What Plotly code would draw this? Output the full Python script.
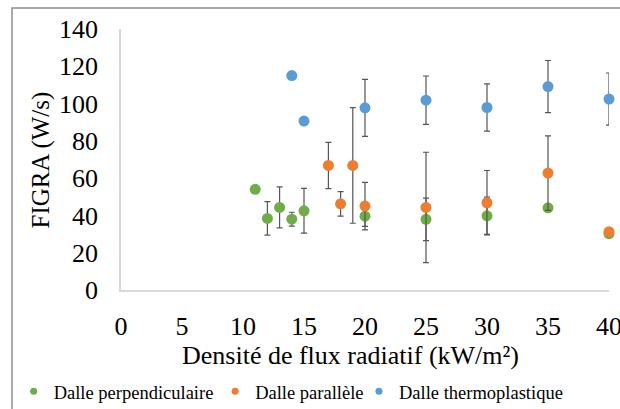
import plotly.graph_objects as go

# données
flux_perp = [11, 12, 13, 14, 15, 20, 25, 30, 35, 40]
figra_perp = [54, 38.4, 44.3, 38, 42.5, 39.6, 37.9, 39.8, 44.1, 30.2]
err_perp = [0, 9, 11, 3.7, 12, 5.5, 11.4, 10, 0, 0]

flux_para = [17, 18, 19, 20, 25, 30, 35, 40]
figra_para = [66.8, 46.2, 66.8, 45, 44.3, 46.8, 62.7, 31.3]
err_para = [12.4, 6.6, 31, 12.7, 29.6, 17.3, 20, 0]

flux_thermo = [14, 15, 20, 25, 30, 35, 40]
figra_thermo = [115, 90.6, 97.7, 101.8, 97.9, 109.1, 102.4]
err_thermo = [0, 0, 15.3, 13, 12.7, 14, 14]

series = [
    ("Dalle perpendiculaire", flux_perp, figra_perp, err_perp, "#70ad47"),
    ("Dalle parallèle", flux_para, figra_para, err_para, "#ed7d31"),
    ("Dalle thermoplastique", flux_thermo, figra_thermo, err_thermo, "#5b9bd5"),
]

FONT = "Times New Roman, Liberation Serif, serif"

fig = go.Figure()

for name, x, y, err, color in series:
    fig.add_trace(go.Scatter(
        x=x, y=y, mode="markers", name=name, showlegend=False, cliponaxis=False,
        marker=dict(color=color, size=11),
        error_y=dict(type="data", array=err, visible=True,
                     color="#555555", thickness=1.2, width=3)))

# une légende par série pour garder tout sur une ligne
legend_ids = ["legend", "legend2", "legend3"]
legend_x = [0.022, 0.347, 0.579]
for (name, x, y, err, color), lg in zip(series, legend_ids):
    fig.add_trace(go.Scatter(
        x=[None], y=[None], mode="markers", name=name, legend=lg,
        marker=dict(color=color, size=7)))

fig.update_xaxes(
    range=[0, 40], dtick=5, showgrid=False, zeroline=False, automargin=False,
    showline=True, linecolor="#d9d9d9", linewidth=1.5,
    ticks="", ticklabelstandoff=12, ticklabeloverflow="allow",
    tickfont=dict(family=FONT, size=26, color="#000000"))

fig.update_yaxes(
    range=[0, 140], dtick=20, showgrid=False, zeroline=False, automargin=False,
    showline=True, linecolor="#d9d9d9", linewidth=1.5,
    ticks="", ticklabelstandoff=16,
    tickfont=dict(family=FONT, size=26, color="#000000"))

fig.add_annotation(
    text="Densité de flux radiatif (kW/m²)", xref="paper", yref="paper",
    x=0.47, y=-0.25, xanchor="center", yanchor="middle", showarrow=False,
    font=dict(family=FONT, size=26, color="#000000"))

fig.add_annotation(
    text="FIGRA (W/s)", xref="paper", yref="paper", textangle=-90,
    x=-0.164, y=0.5, xanchor="center", yanchor="middle", showarrow=False,
    font=dict(family=FONT, size=25, color="#000000"))

# cadre du graphique
fig.add_shape(
    type="rect", xref="paper", yref="paper",
    x0=-0.2234, x1=1.05, y0=-0.5, y1=1.0805,
    line=dict(color="#8c8c8c", width=1.5), fillcolor="rgba(0,0,0,0)")

fig.update_layout(
    template="none",
    width=620, height=409,
    font=dict(family=FONT, color="#000000"),
    margin=dict(l=121, r=11, t=29, b=119, autoexpand=False),
    paper_bgcolor="white", plot_bgcolor="white",
)

for lg, lx in zip(legend_ids, legend_x):
    fig.update_layout({lg: dict(
        orientation="h", xref="container", yref="container",
        xanchor="left", x=lx, yanchor="middle", y=0.042,
        font=dict(family=FONT, size=18.5, color="#000000"),
        itemwidth=30, bgcolor="rgba(0,0,0,0)")})

# enlever la marge du body pour que la figure remplisse la fenêtre
fig.write_html("out.html", config={"displayModeBar": False},
               post_script="document.body.style.margin='0';document.body.style.overflow='hidden';")
